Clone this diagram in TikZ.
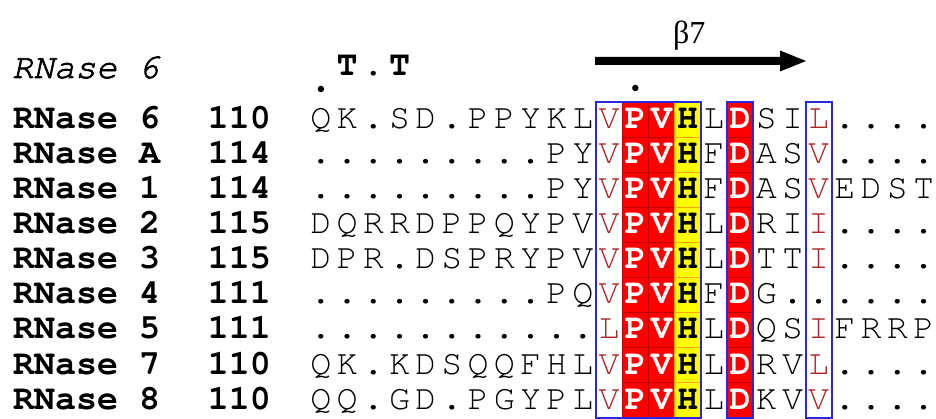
\documentclass[tikz,border=0pt]{standalone}
\usepackage{fontspec}
\newfontfamily\curfam{TeX Gyre Cursor}
\newfontfamily\curitfam[FakeBold=2]{TeX Gyre Cursor}
\newfontfamily\serfam{Liberation Serif}
\definecolor{simred}{RGB}{170,40,40}
\definecolor{boxblue}{RGB}{40,40,220}
\definecolor{idred}{RGB}{255,0,0}
\definecolor{idyel}{RGB}{255,255,0}
\newcommand\resfont{\curfam\fontsize{35}{35}\selectfont}
\newcommand\resbold{\curfam\bfseries\fontsize{35}{35}\selectfont}
\newcommand\resital{\curitfam\itshape\fontsize{35}{35}\selectfont}
\tikzset{
  res/.style={font=\resfont, anchor=base, inner sep=0pt, text=black},
  sim/.style={res, text=simred},
  idn/.style={font=\resbold, anchor=base, inner sep=0pt, text=white},
  hid/.style={font=\resbold, anchor=base, inner sep=0pt, text=black},
  seqname/.style={font=\resbold, anchor=base west, inner sep=0pt},
  seqnum/.style={font=\resbold, anchor=base east, inner sep=0pt},
  redcell/.style={fill=idred, draw=idred!75!black, line width=0.5pt},
  yelcell/.style={fill=idyel, draw=orange!70!yellow, line width=0.5pt},
  simbox/.style={draw=boxblue, line width=1.8pt},
  numdot/.style={circle, fill=black, inner sep=0pt, minimum size=6.5pt},
}
\expandafter\def\csname seqrow0\endcsname{Q,K,.,S,D,.,P,P,Y,K,L,V,P,V,H,L,D,S,I,L,.,.,.,.}
\expandafter\def\csname seqrow1\endcsname{.,.,.,.,.,.,.,.,.,P,Y,V,P,V,H,F,D,A,S,V,.,.,.,.}
\expandafter\def\csname seqrow2\endcsname{.,.,.,.,.,.,.,.,.,P,Y,V,P,V,H,F,D,A,S,V,E,D,S,T}
\expandafter\def\csname seqrow3\endcsname{D,Q,R,R,D,P,P,Q,Y,P,V,V,P,V,H,L,D,R,I,I,.,.,.,.}
\expandafter\def\csname seqrow4\endcsname{D,P,R,.,D,S,P,R,Y,P,V,V,P,V,H,L,D,T,T,I,.,.,.,.}
\expandafter\def\csname seqrow5\endcsname{.,.,.,.,.,.,.,.,.,P,Q,V,P,V,H,F,D,G,.,.,.,.,.,.}
\expandafter\def\csname seqrow6\endcsname{.,.,.,.,.,.,.,.,.,.,.,L,P,V,H,L,D,Q,S,I,F,R,R,P}
\expandafter\def\csname seqrow7\endcsname{Q,K,.,K,D,S,Q,Q,F,H,L,V,P,V,H,L,D,R,V,L,.,.,.,.}
\expandafter\def\csname seqrow8\endcsname{Q,Q,.,G,D,.,P,G,Y,P,L,V,P,V,H,L,D,K,V,V,.,.,.,.}
\def\dotch{.}
\begin{document}
\begin{tikzpicture}[x=1pt,y=-1pt]
\useasboundingbox (0,0) rectangle (936,419);
% coloured cells
\foreach \r in {0,...,8}{
  \foreach \c in {12,13,16}{
    \path[redcell] (307.8+26.2*\c,101.7+35.1*\r) rectangle ++(26.2,35.1);
  }
  \path[yelcell] (307.8+26.2*14,101.7+35.1*\r) rectangle ++(26.2,35.1);
}
% similarity boxes
\draw[simbox] (307.8+26.2*11,101.7) rectangle (307.8+26.2*15,417.6);
\draw[simbox] (307.8+26.2*16,101.7) rectangle (307.8+26.2*17,417.6);
\draw[simbox] (307.8+26.2*19,101.7) rectangle (307.8+26.2*20,417.6);
% rows
\foreach \r/\nm/\nb in {0/6/110,1/A/114,2/1/114,3/2/115,4/3/115,5/4/111,6/5/111,7/7/110,8/8/110}{
  \node[seqname] (name\r) at (13,128.3+35.1*\r) {RNase \nm};
  \node[seqnum] (num\r) at (271,128.3+35.1*\r) {\nb};
  \expandafter\let\expandafter\cursq\csname seqrow\r\endcsname
  \foreach \ch [count=\c from 0] in \cursq {
    \def\sty{res}
    \ifnum\c=11 \def\sty{sim}\fi
    \ifnum\c=19 \def\sty{sim}\fi
    \ifnum\c=12 \def\sty{idn}\fi
    \ifnum\c=13 \def\sty{idn}\fi
    \ifnum\c=16 \def\sty{idn}\fi
    \ifnum\c=14 \def\sty{hid}\fi
    \edef\tmpch{\ch}\ifx\tmpch\dotch\def\sty{res}\fi
    \node[\sty] (s\r-\c) at (320.9+26.2*\c,128.3+35.1*\r) {\ch};
  }
}
% header
\node[font=\resital, anchor=base west, inner sep=0pt] (title) at (12,78) {RNase 6};
\node[idn, text=black] (t1) at (320.9+26.2*1,76) {T};
\node[idn, text=black] (t2) at (320.9+26.2*2,76) {.};
\node[idn, text=black] (t3) at (320.9+26.2*3,76) {T};
\node[numdot] (d0) at (320.9,89) {};
\node[numdot] (d12) at (320.9+26.2*12,88) {};
% beta strand
\fill (595,57) -- (780,57) -- (780,50.5) -- (806,61) -- (780,71.5) -- (780,65) -- (595,65) -- cycle;
\node[anchor=base west, inner sep=0pt, font=\serfam\fontsize{32}{32}\selectfont] (beta) at (673,44) {β7};
\end{tikzpicture}
\end{document}
